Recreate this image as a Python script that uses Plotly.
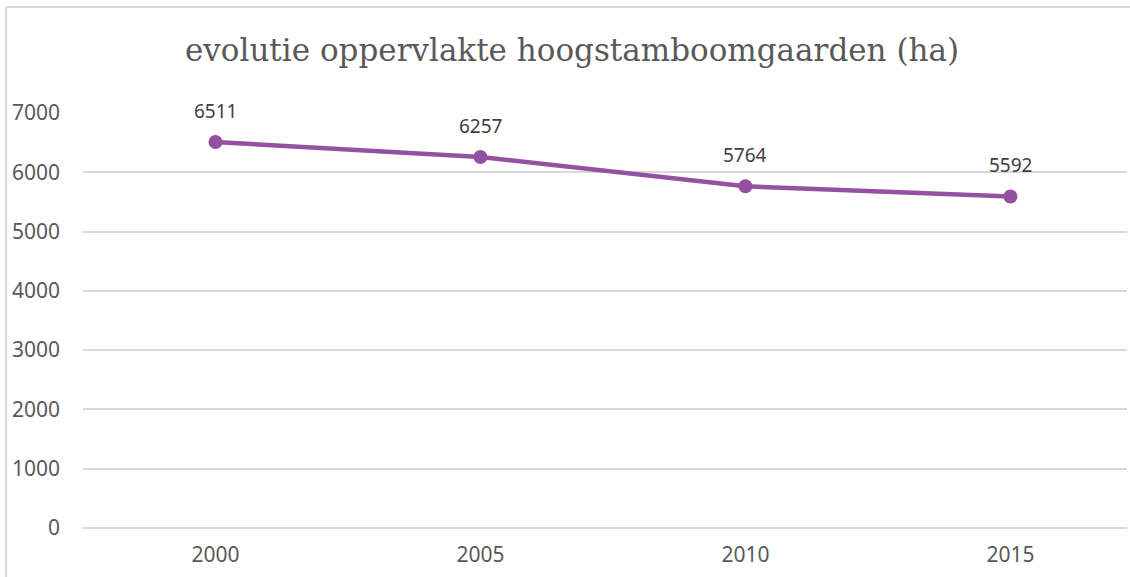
import plotly.graph_objects as go

years = ["2000", "2005", "2010", "2015"]
area_ha = [6511, 6257, 5764, 5592]
y_ticks = [0, 1000, 2000, 3000, 4000, 5000, 6000, 7000]

purple = "#9450a1"
grid = "#d9d9d9"
txt = "#595959"

W, H = 1130, 577
L, T, R, B = 83, 113, 3, 49
pw = W - L - R
ph = H - T - B

fig = go.Figure()
fig.add_trace(go.Scatter(
    x=years, y=area_ha, mode="lines+markers",
    line=dict(color=purple, width=4.5),
    marker=dict(color=purple, size=14),
    cliponaxis=False,
    hoverinfo="skip",
))

annotations = [
    dict(x=i, y=v, xref="x", yref="y", text=str(v), showarrow=False,
         yshift=31, font=dict(family="Noto Sans", size=19, color="#404040"))
    for i, v in enumerate(area_ha)
]

bx = (6 - L) / pw
by = (H - B - 7) / ph

fig.update_layout(
    width=W, height=H,
    margin=dict(l=L, r=R, t=T, b=B),
    paper_bgcolor="white", plot_bgcolor="white",
    showlegend=False,
    annotations=annotations,
    title=dict(
        text="evolutie oppervlakte hoogstamboomgaarden (ha)",
        font=dict(family="DejaVu Serif", size=31, color=txt),
        x=572 / W, xref="container", xanchor="center",
        y=1 - 50 / H, yref="container", yanchor="middle",
    ),
    xaxis=dict(
        type="category", range=[-0.5, 3.44],
        showgrid=False, zeroline=False, showline=False,
        ticks="", ticklabelstandoff=12,
        tickfont=dict(family="Noto Sans", size=21, color=txt),
    ),
    yaxis=dict(
        range=[0, 7000], tickvals=y_ticks,
        showgrid=True, gridcolor=grid, gridwidth=1.5,
        zeroline=True, zerolinecolor=grid, zerolinewidth=1.5,
        showline=False, ticks="",
        ticklabelstandoff=22,
        tickfont=dict(family="Noto Sans", size=21, color=txt),
    ),
    shapes=[
        dict(type="line", xref="paper", yref="paper",
             x0=bx, x1=1.05, y0=by, y1=by,
             line=dict(color=grid, width=2)),
        dict(type="line", xref="paper", yref="paper",
             x0=bx, x1=bx, y0=by, y1=-0.2,
             line=dict(color=grid, width=2)),
    ],
)

fig.write_html(
    "out.html",
    config={"displayModeBar": False},
    post_script=(
        "document.documentElement.style.margin='0';"
        "document.documentElement.style.overflow='hidden';"
        "document.body.style.margin='0';document.body.style.padding='0';"
        "document.body.style.overflow='hidden';"
    ),
)
